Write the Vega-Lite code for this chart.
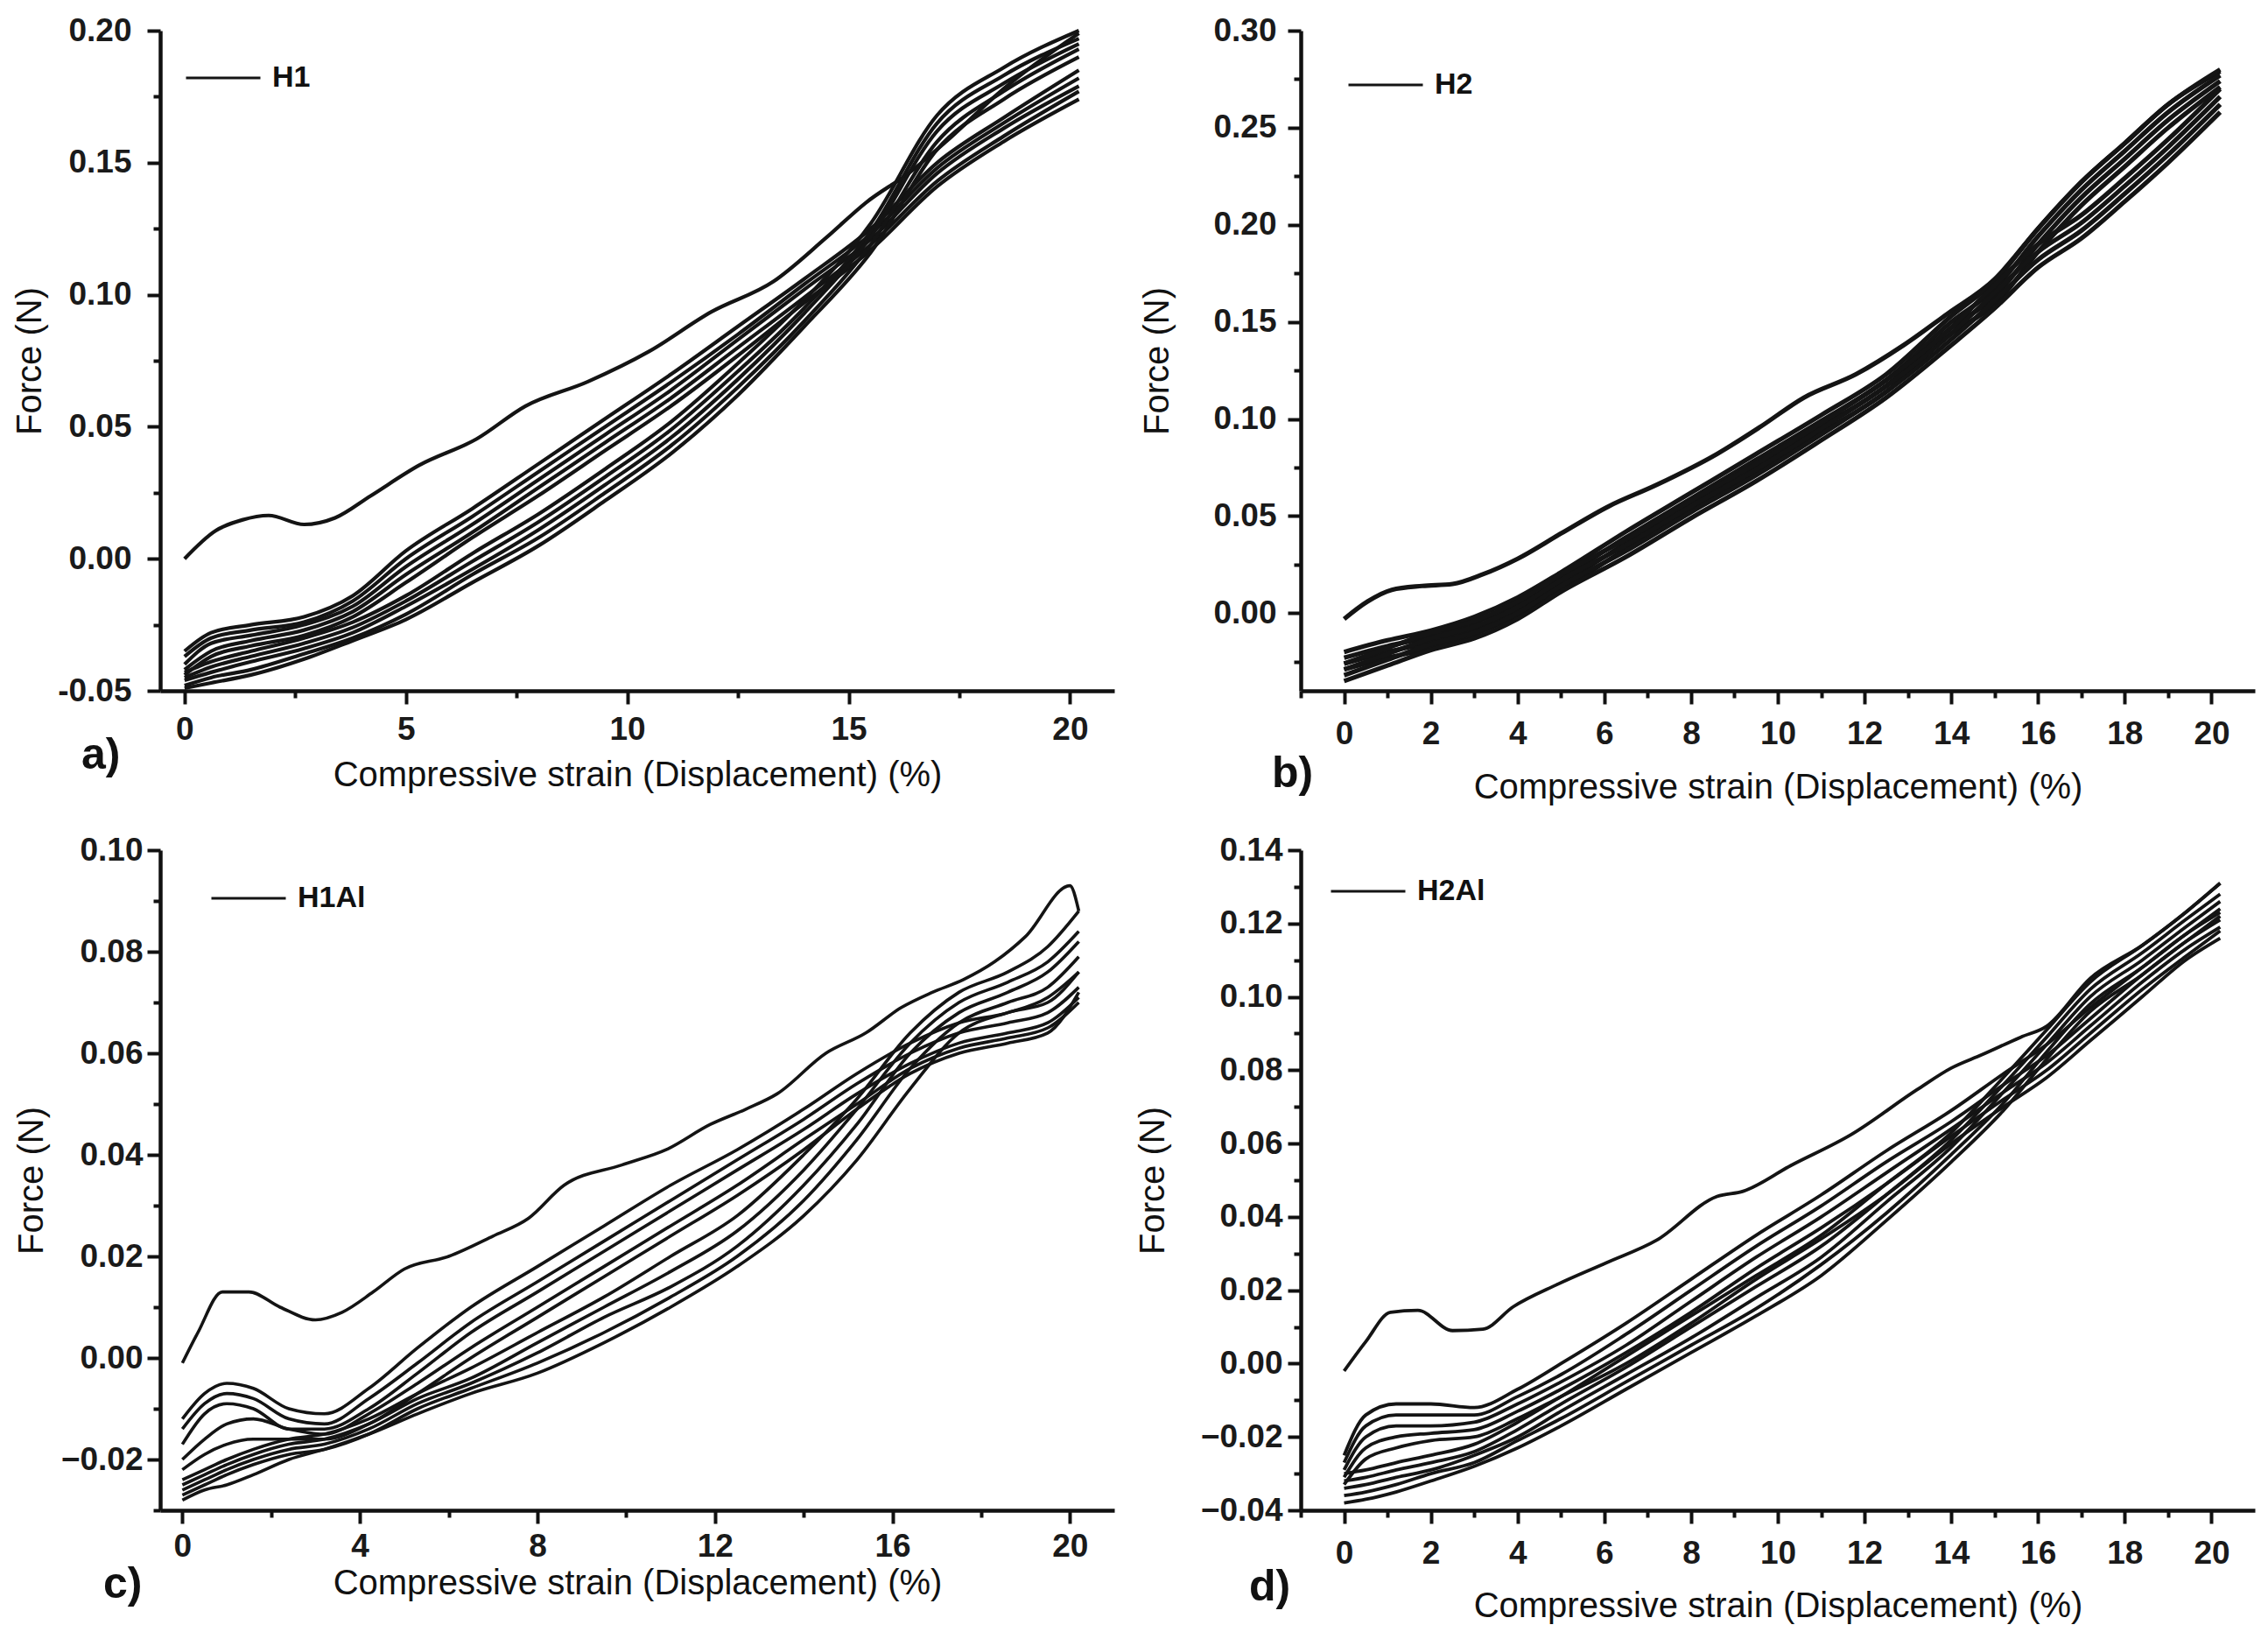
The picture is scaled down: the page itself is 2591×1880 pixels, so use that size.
{
  "$schema": "https://vega.github.io/schema/vega-lite/v6.json",
  "description": "Cyclic compression tests: force vs compressive strain for H1, H2, H1Al and H2Al",
  "background": "white",
  "padding": {"left": 14, "top": 16, "right": 5, "bottom": 5},
  "datasets": {
    "a": [
      {"c": "F", "x": 0, "y": 0}, {"c": "F", "x": 0.7, "y": 0.0106}, {"c": "F", "x": 1.3, "y": 0.0147}, {"c": "F", "x": 1.9, "y": 0.0164}, {"c": "F", "x": 2.7, "y": 0.013}, {"c": "F", "x": 3.4, "y": 0.0155}, {"c": "F", "x": 4.2, "y": 0.0238}, {"c": "F", "x": 5.3, "y": 0.0354}, {"c": "F", "x": 6.6, "y": 0.0454}, {"c": "F", "x": 7.7, "y": 0.0578}, {"c": "F", "x": 9.1, "y": 0.067}, {"c": "F", "x": 10.5, "y": 0.0786}, {"c": "F", "x": 11.9, "y": 0.0935}, {"c": "F", "x": 13.3, "y": 0.105}, {"c": "F", "x": 14.5, "y": 0.1217}, {"c": "F", "x": 15.4, "y": 0.135}, {"c": "F", "x": 16.4, "y": 0.1466}, {"c": "F", "x": 17.2, "y": 0.158}, {"c": "F", "x": 18.5, "y": 0.178}, {"c": "F", "x": 20.2, "y": 0.199},
      {"c": "U1", "x": 0, "y": -0.035}, {"c": "U1", "x": 0.6, "y": -0.028}, {"c": "U1", "x": 1.5, "y": -0.025}, {"c": "U1", "x": 2.7, "y": -0.022}, {"c": "U1", "x": 3.8, "y": -0.014}, {"c": "U1", "x": 5, "y": 0.003}, {"c": "U1", "x": 6.5, "y": 0.019}, {"c": "U1", "x": 8, "y": 0.036}, {"c": "U1", "x": 9.5, "y": 0.053}, {"c": "U1", "x": 11, "y": 0.07}, {"c": "U1", "x": 12.5, "y": 0.088}, {"c": "U1", "x": 14, "y": 0.106}, {"c": "U1", "x": 15.5, "y": 0.125}, {"c": "U1", "x": 17, "y": 0.15}, {"c": "U1", "x": 18.5, "y": 0.167}, {"c": "U1", "x": 20.2, "y": 0.185},
      {"c": "U2", "x": 0, "y": -0.037}, {"c": "U2", "x": 0.6, "y": -0.03}, {"c": "U2", "x": 1.5, "y": -0.027}, {"c": "U2", "x": 2.7, "y": -0.024}, {"c": "U2", "x": 3.8, "y": -0.016}, {"c": "U2", "x": 5, "y": 0}, {"c": "U2", "x": 6.5, "y": 0.016}, {"c": "U2", "x": 8, "y": 0.033}, {"c": "U2", "x": 9.5, "y": 0.05}, {"c": "U2", "x": 11, "y": 0.067}, {"c": "U2", "x": 12.5, "y": 0.085}, {"c": "U2", "x": 14, "y": 0.104}, {"c": "U2", "x": 15.5, "y": 0.123}, {"c": "U2", "x": 17, "y": 0.148}, {"c": "U2", "x": 18.5, "y": 0.165}, {"c": "U2", "x": 20.2, "y": 0.182},
      {"c": "U3", "x": 0, "y": -0.04}, {"c": "U3", "x": 0.6, "y": -0.032}, {"c": "U3", "x": 1.5, "y": -0.029}, {"c": "U3", "x": 2.7, "y": -0.025}, {"c": "U3", "x": 3.8, "y": -0.018}, {"c": "U3", "x": 5, "y": -0.003}, {"c": "U3", "x": 6.5, "y": 0.013}, {"c": "U3", "x": 8, "y": 0.03}, {"c": "U3", "x": 9.5, "y": 0.047}, {"c": "U3", "x": 11, "y": 0.064}, {"c": "U3", "x": 12.5, "y": 0.083}, {"c": "U3", "x": 14, "y": 0.102}, {"c": "U3", "x": 15.5, "y": 0.121}, {"c": "U3", "x": 17, "y": 0.146}, {"c": "U3", "x": 18.5, "y": 0.163}, {"c": "U3", "x": 20.2, "y": 0.179},
      {"c": "U4", "x": 0, "y": -0.042}, {"c": "U4", "x": 0.6, "y": -0.035}, {"c": "U4", "x": 1.5, "y": -0.031}, {"c": "U4", "x": 2.7, "y": -0.027}, {"c": "U4", "x": 3.8, "y": -0.02}, {"c": "U4", "x": 5, "y": -0.006}, {"c": "U4", "x": 6.5, "y": 0.01}, {"c": "U4", "x": 8, "y": 0.027}, {"c": "U4", "x": 9.5, "y": 0.044}, {"c": "U4", "x": 11, "y": 0.061}, {"c": "U4", "x": 12.5, "y": 0.08}, {"c": "U4", "x": 14, "y": 0.099}, {"c": "U4", "x": 15.5, "y": 0.119}, {"c": "U4", "x": 17, "y": 0.143}, {"c": "U4", "x": 18.5, "y": 0.16}, {"c": "U4", "x": 20.2, "y": 0.177},
      {"c": "U5", "x": 0, "y": -0.044}, {"c": "U5", "x": 0.6, "y": -0.037}, {"c": "U5", "x": 1.5, "y": -0.033}, {"c": "U5", "x": 2.7, "y": -0.029}, {"c": "U5", "x": 3.8, "y": -0.022}, {"c": "U5", "x": 5, "y": -0.009}, {"c": "U5", "x": 6.5, "y": 0.008}, {"c": "U5", "x": 8, "y": 0.024}, {"c": "U5", "x": 9.5, "y": 0.041}, {"c": "U5", "x": 11, "y": 0.058}, {"c": "U5", "x": 12.5, "y": 0.077}, {"c": "U5", "x": 14, "y": 0.097}, {"c": "U5", "x": 15.5, "y": 0.117}, {"c": "U5", "x": 17, "y": 0.141}, {"c": "U5", "x": 18.5, "y": 0.158}, {"c": "U5", "x": 20.2, "y": 0.174},
      {"c": "L1", "x": 0, "y": -0.043}, {"c": "L1", "x": 0.6, "y": -0.039}, {"c": "L1", "x": 1.5, "y": -0.035}, {"c": "L1", "x": 2.7, "y": -0.03}, {"c": "L1", "x": 3.8, "y": -0.024}, {"c": "L1", "x": 5, "y": -0.014}, {"c": "L1", "x": 6.5, "y": 0.002}, {"c": "L1", "x": 8, "y": 0.017}, {"c": "L1", "x": 9.5, "y": 0.034}, {"c": "L1", "x": 11, "y": 0.052}, {"c": "L1", "x": 12.5, "y": 0.074}, {"c": "L1", "x": 14, "y": 0.098}, {"c": "L1", "x": 15.5, "y": 0.127}, {"c": "L1", "x": 17, "y": 0.168}, {"c": "L1", "x": 18.5, "y": 0.186}, {"c": "L1", "x": 20.2, "y": 0.2},
      {"c": "L2", "x": 0, "y": -0.045}, {"c": "L2", "x": 0.6, "y": -0.041}, {"c": "L2", "x": 1.5, "y": -0.037}, {"c": "L2", "x": 2.7, "y": -0.032}, {"c": "L2", "x": 3.8, "y": -0.026}, {"c": "L2", "x": 5, "y": -0.016}, {"c": "L2", "x": 6.5, "y": -0.001}, {"c": "L2", "x": 8, "y": 0.014}, {"c": "L2", "x": 9.5, "y": 0.031}, {"c": "L2", "x": 11, "y": 0.049}, {"c": "L2", "x": 12.5, "y": 0.071}, {"c": "L2", "x": 14, "y": 0.095}, {"c": "L2", "x": 15.5, "y": 0.124}, {"c": "L2", "x": 17, "y": 0.165}, {"c": "L2", "x": 18.5, "y": 0.183}, {"c": "L2", "x": 20.2, "y": 0.197},
      {"c": "L3", "x": 0, "y": -0.046}, {"c": "L3", "x": 0.6, "y": -0.043}, {"c": "L3", "x": 1.5, "y": -0.039}, {"c": "L3", "x": 2.7, "y": -0.034}, {"c": "L3", "x": 3.8, "y": -0.028}, {"c": "L3", "x": 5, "y": -0.018}, {"c": "L3", "x": 6.5, "y": -0.004}, {"c": "L3", "x": 8, "y": 0.011}, {"c": "L3", "x": 9.5, "y": 0.028}, {"c": "L3", "x": 11, "y": 0.046}, {"c": "L3", "x": 12.5, "y": 0.068}, {"c": "L3", "x": 14, "y": 0.093}, {"c": "L3", "x": 15.5, "y": 0.122}, {"c": "L3", "x": 17, "y": 0.162}, {"c": "L3", "x": 18.5, "y": 0.18}, {"c": "L3", "x": 20.2, "y": 0.195},
      {"c": "L4", "x": 0, "y": -0.048}, {"c": "L4", "x": 0.6, "y": -0.045}, {"c": "L4", "x": 1.5, "y": -0.042}, {"c": "L4", "x": 2.7, "y": -0.036}, {"c": "L4", "x": 3.8, "y": -0.03}, {"c": "L4", "x": 5, "y": -0.021}, {"c": "L4", "x": 6.5, "y": -0.006}, {"c": "L4", "x": 8, "y": 0.008}, {"c": "L4", "x": 9.5, "y": 0.025}, {"c": "L4", "x": 11, "y": 0.043}, {"c": "L4", "x": 12.5, "y": 0.065}, {"c": "L4", "x": 14, "y": 0.09}, {"c": "L4", "x": 15.5, "y": 0.119}, {"c": "L4", "x": 17, "y": 0.158}, {"c": "L4", "x": 18.5, "y": 0.177}, {"c": "L4", "x": 20.2, "y": 0.193},
      {"c": "L5", "x": 0, "y": -0.049}, {"c": "L5", "x": 0.6, "y": -0.047}, {"c": "L5", "x": 1.5, "y": -0.044}, {"c": "L5", "x": 2.7, "y": -0.038}, {"c": "L5", "x": 3.8, "y": -0.031}, {"c": "L5", "x": 5, "y": -0.023}, {"c": "L5", "x": 6.5, "y": -0.009}, {"c": "L5", "x": 8, "y": 0.005}, {"c": "L5", "x": 9.5, "y": 0.022}, {"c": "L5", "x": 11, "y": 0.04}, {"c": "L5", "x": 12.5, "y": 0.062}, {"c": "L5", "x": 14, "y": 0.088}, {"c": "L5", "x": 15.5, "y": 0.116}, {"c": "L5", "x": 17, "y": 0.155}, {"c": "L5", "x": 18.5, "y": 0.174}, {"c": "L5", "x": 20.2, "y": 0.19}
    ],
    "b": [
      {"c": "F", "x": 0, "y": -0.003}, {"c": "F", "x": 0.54, "y": 0.006}, {"c": "F", "x": 1.1, "y": 0.012}, {"c": "F", "x": 1.8, "y": 0.014}, {"c": "F", "x": 2.5, "y": 0.015}, {"c": "F", "x": 3.2, "y": 0.02}, {"c": "F", "x": 4, "y": 0.028}, {"c": "F", "x": 5, "y": 0.041}, {"c": "F", "x": 6.1, "y": 0.055}, {"c": "F", "x": 7.2, "y": 0.066}, {"c": "F", "x": 8.6, "y": 0.082}, {"c": "F", "x": 9.6, "y": 0.096}, {"c": "F", "x": 10.6, "y": 0.111}, {"c": "F", "x": 11.8, "y": 0.123}, {"c": "F", "x": 12.9, "y": 0.138}, {"c": "F", "x": 13.9, "y": 0.154}, {"c": "F", "x": 15, "y": 0.172}, {"c": "F", "x": 16, "y": 0.198}, {"c": "F", "x": 17, "y": 0.222}, {"c": "F", "x": 18, "y": 0.242}, {"c": "F", "x": 19, "y": 0.262}, {"c": "F", "x": 20.2, "y": 0.279},
      {"c": "U1", "x": 0, "y": -0.02}, {"c": "U1", "x": 1, "y": -0.014}, {"c": "U1", "x": 2, "y": -0.009}, {"c": "U1", "x": 3, "y": -0.002}, {"c": "U1", "x": 4, "y": 0.008}, {"c": "U1", "x": 5, "y": 0.021}, {"c": "U1", "x": 6.5, "y": 0.042}, {"c": "U1", "x": 8, "y": 0.062}, {"c": "U1", "x": 9.5, "y": 0.082}, {"c": "U1", "x": 11, "y": 0.102}, {"c": "U1", "x": 12.5, "y": 0.123}, {"c": "U1", "x": 14, "y": 0.153}, {"c": "U1", "x": 15, "y": 0.171}, {"c": "U1", "x": 16, "y": 0.198}, {"c": "U1", "x": 17, "y": 0.222}, {"c": "U1", "x": 18, "y": 0.242}, {"c": "U1", "x": 19, "y": 0.262}, {"c": "U1", "x": 20.2, "y": 0.28},
      {"c": "U2", "x": 0, "y": -0.023}, {"c": "U2", "x": 1, "y": -0.017}, {"c": "U2", "x": 2, "y": -0.012}, {"c": "U2", "x": 3, "y": -0.005}, {"c": "U2", "x": 4, "y": 0.005}, {"c": "U2", "x": 5, "y": 0.018}, {"c": "U2", "x": 6.5, "y": 0.039}, {"c": "U2", "x": 8, "y": 0.059}, {"c": "U2", "x": 9.5, "y": 0.079}, {"c": "U2", "x": 11, "y": 0.099}, {"c": "U2", "x": 12.5, "y": 0.12}, {"c": "U2", "x": 14, "y": 0.15}, {"c": "U2", "x": 15, "y": 0.167}, {"c": "U2", "x": 16, "y": 0.194}, {"c": "U2", "x": 17, "y": 0.218}, {"c": "U2", "x": 18, "y": 0.238}, {"c": "U2", "x": 19, "y": 0.258}, {"c": "U2", "x": 20.2, "y": 0.277},
      {"c": "U3", "x": 0, "y": -0.026}, {"c": "U3", "x": 1, "y": -0.02}, {"c": "U3", "x": 2, "y": -0.015}, {"c": "U3", "x": 3, "y": -0.008}, {"c": "U3", "x": 4, "y": 0.002}, {"c": "U3", "x": 5, "y": 0.015}, {"c": "U3", "x": 6.5, "y": 0.036}, {"c": "U3", "x": 8, "y": 0.056}, {"c": "U3", "x": 9.5, "y": 0.076}, {"c": "U3", "x": 11, "y": 0.096}, {"c": "U3", "x": 12.5, "y": 0.117}, {"c": "U3", "x": 14, "y": 0.147}, {"c": "U3", "x": 15, "y": 0.163}, {"c": "U3", "x": 16, "y": 0.19}, {"c": "U3", "x": 17, "y": 0.214}, {"c": "U3", "x": 18, "y": 0.234}, {"c": "U3", "x": 19, "y": 0.254}, {"c": "U3", "x": 20.2, "y": 0.274},
      {"c": "U4", "x": 0, "y": -0.029}, {"c": "U4", "x": 1, "y": -0.023}, {"c": "U4", "x": 2, "y": -0.018}, {"c": "U4", "x": 3, "y": -0.011}, {"c": "U4", "x": 4, "y": -0.001}, {"c": "U4", "x": 5, "y": 0.012}, {"c": "U4", "x": 6.5, "y": 0.033}, {"c": "U4", "x": 8, "y": 0.053}, {"c": "U4", "x": 9.5, "y": 0.073}, {"c": "U4", "x": 11, "y": 0.093}, {"c": "U4", "x": 12.5, "y": 0.114}, {"c": "U4", "x": 14, "y": 0.144}, {"c": "U4", "x": 15, "y": 0.159}, {"c": "U4", "x": 16, "y": 0.186}, {"c": "U4", "x": 17, "y": 0.21}, {"c": "U4", "x": 18, "y": 0.23}, {"c": "U4", "x": 19, "y": 0.25}, {"c": "U4", "x": 20.2, "y": 0.271},
      {"c": "L1", "x": 0, "y": -0.035}, {"c": "L1", "x": 1, "y": -0.027}, {"c": "L1", "x": 2, "y": -0.019}, {"c": "L1", "x": 3, "y": -0.013}, {"c": "L1", "x": 4, "y": -0.003}, {"c": "L1", "x": 5, "y": 0.011}, {"c": "L1", "x": 6.5, "y": 0.029}, {"c": "L1", "x": 8, "y": 0.049}, {"c": "L1", "x": 9.5, "y": 0.068}, {"c": "L1", "x": 11, "y": 0.089}, {"c": "L1", "x": 12.5, "y": 0.111}, {"c": "L1", "x": 14, "y": 0.138}, {"c": "L1", "x": 15, "y": 0.157}, {"c": "L1", "x": 16, "y": 0.178}, {"c": "L1", "x": 17, "y": 0.193}, {"c": "L1", "x": 18, "y": 0.212}, {"c": "L1", "x": 19, "y": 0.232}, {"c": "L1", "x": 20.2, "y": 0.258},
      {"c": "L2", "x": 0, "y": -0.032}, {"c": "L2", "x": 1, "y": -0.024}, {"c": "L2", "x": 2, "y": -0.016}, {"c": "L2", "x": 3, "y": -0.01}, {"c": "L2", "x": 4, "y": 0}, {"c": "L2", "x": 5, "y": 0.014}, {"c": "L2", "x": 6.5, "y": 0.032}, {"c": "L2", "x": 8, "y": 0.052}, {"c": "L2", "x": 9.5, "y": 0.071}, {"c": "L2", "x": 11, "y": 0.092}, {"c": "L2", "x": 12.5, "y": 0.114}, {"c": "L2", "x": 14, "y": 0.141}, {"c": "L2", "x": 15, "y": 0.161}, {"c": "L2", "x": 16, "y": 0.182}, {"c": "L2", "x": 17, "y": 0.197}, {"c": "L2", "x": 18, "y": 0.216}, {"c": "L2", "x": 19, "y": 0.236}, {"c": "L2", "x": 20.2, "y": 0.262},
      {"c": "L3", "x": 0, "y": -0.029}, {"c": "L3", "x": 1, "y": -0.021}, {"c": "L3", "x": 2, "y": -0.013}, {"c": "L3", "x": 3, "y": -0.007}, {"c": "L3", "x": 4, "y": 0.003}, {"c": "L3", "x": 5, "y": 0.017}, {"c": "L3", "x": 6.5, "y": 0.035}, {"c": "L3", "x": 8, "y": 0.055}, {"c": "L3", "x": 9.5, "y": 0.074}, {"c": "L3", "x": 11, "y": 0.095}, {"c": "L3", "x": 12.5, "y": 0.117}, {"c": "L3", "x": 14, "y": 0.144}, {"c": "L3", "x": 15, "y": 0.165}, {"c": "L3", "x": 16, "y": 0.186}, {"c": "L3", "x": 17, "y": 0.201}, {"c": "L3", "x": 18, "y": 0.22}, {"c": "L3", "x": 19, "y": 0.24}, {"c": "L3", "x": 20.2, "y": 0.266},
      {"c": "L4", "x": 0, "y": -0.026}, {"c": "L4", "x": 1, "y": -0.018}, {"c": "L4", "x": 2, "y": -0.01}, {"c": "L4", "x": 3, "y": -0.004}, {"c": "L4", "x": 4, "y": 0.006}, {"c": "L4", "x": 5, "y": 0.02}, {"c": "L4", "x": 6.5, "y": 0.038}, {"c": "L4", "x": 8, "y": 0.058}, {"c": "L4", "x": 9.5, "y": 0.077}, {"c": "L4", "x": 11, "y": 0.098}, {"c": "L4", "x": 12.5, "y": 0.12}, {"c": "L4", "x": 14, "y": 0.147}, {"c": "L4", "x": 15, "y": 0.169}, {"c": "L4", "x": 16, "y": 0.19}, {"c": "L4", "x": 17, "y": 0.205}, {"c": "L4", "x": 18, "y": 0.224}, {"c": "L4", "x": 19, "y": 0.244}, {"c": "L4", "x": 20.2, "y": 0.27}
    ],
    "c": [
      {"c": "F", "x": 0, "y": -0.001}, {"c": "F", "x": 0.35, "y": 0.005}, {"c": "F", "x": 0.9, "y": 0.013}, {"c": "F", "x": 1.5, "y": 0.013}, {"c": "F", "x": 2.2, "y": 0.01}, {"c": "F", "x": 3, "y": 0.0075}, {"c": "F", "x": 3.6, "y": 0.009}, {"c": "F", "x": 4.3, "y": 0.013}, {"c": "F", "x": 5, "y": 0.0175}, {"c": "F", "x": 6, "y": 0.02}, {"c": "F", "x": 7, "y": 0.024}, {"c": "F", "x": 7.8, "y": 0.0275}, {"c": "F", "x": 8.6, "y": 0.034}, {"c": "F", "x": 9.9, "y": 0.038}, {"c": "F", "x": 10.9, "y": 0.041}, {"c": "F", "x": 11.9, "y": 0.046}, {"c": "F", "x": 12.7, "y": 0.049}, {"c": "F", "x": 13.4, "y": 0.052}, {"c": "F", "x": 14.5, "y": 0.06}, {"c": "F", "x": 15.4, "y": 0.064}, {"c": "F", "x": 16.2, "y": 0.069}, {"c": "F", "x": 16.9, "y": 0.072}, {"c": "F", "x": 17.6, "y": 0.0745}, {"c": "F", "x": 18.3, "y": 0.078}, {"c": "F", "x": 19, "y": 0.083}, {"c": "F", "x": 20, "y": 0.093}, {"c": "F", "x": 20.2, "y": 0.088},
      {"c": "U1", "x": 0, "y": -0.012}, {"c": "U1", "x": 0.5, "y": -0.007}, {"c": "U1", "x": 1, "y": -0.005}, {"c": "U1", "x": 1.6, "y": -0.006}, {"c": "U1", "x": 2.4, "y": -0.01}, {"c": "U1", "x": 3.2, "y": -0.011}, {"c": "U1", "x": 4.2, "y": -0.006}, {"c": "U1", "x": 5.3, "y": 0.002}, {"c": "U1", "x": 6.5, "y": 0.01}, {"c": "U1", "x": 8, "y": 0.018}, {"c": "U1", "x": 9.5, "y": 0.026}, {"c": "U1", "x": 11, "y": 0.034}, {"c": "U1", "x": 12.5, "y": 0.041}, {"c": "U1", "x": 14, "y": 0.049}, {"c": "U1", "x": 15.2, "y": 0.056}, {"c": "U1", "x": 16.4, "y": 0.062}, {"c": "U1", "x": 17.5, "y": 0.066}, {"c": "U1", "x": 18.6, "y": 0.068}, {"c": "U1", "x": 19.5, "y": 0.071}, {"c": "U1", "x": 20.2, "y": 0.076},
      {"c": "U2", "x": 0, "y": -0.014}, {"c": "U2", "x": 0.5, "y": -0.009}, {"c": "U2", "x": 1, "y": -0.007}, {"c": "U2", "x": 1.6, "y": -0.008}, {"c": "U2", "x": 2.4, "y": -0.012}, {"c": "U2", "x": 3.2, "y": -0.013}, {"c": "U2", "x": 4.2, "y": -0.008}, {"c": "U2", "x": 5.3, "y": -0.001}, {"c": "U2", "x": 6.5, "y": 0.007}, {"c": "U2", "x": 8, "y": 0.015}, {"c": "U2", "x": 9.5, "y": 0.023}, {"c": "U2", "x": 11, "y": 0.031}, {"c": "U2", "x": 12.5, "y": 0.039}, {"c": "U2", "x": 14, "y": 0.047}, {"c": "U2", "x": 15.2, "y": 0.054}, {"c": "U2", "x": 16.4, "y": 0.06}, {"c": "U2", "x": 17.5, "y": 0.064}, {"c": "U2", "x": 18.6, "y": 0.066}, {"c": "U2", "x": 19.5, "y": 0.068}, {"c": "U2", "x": 20.2, "y": 0.073},
      {"c": "U3", "x": 0, "y": -0.017}, {"c": "U3", "x": 0.5, "y": -0.011}, {"c": "U3", "x": 1, "y": -0.009}, {"c": "U3", "x": 1.6, "y": -0.01}, {"c": "U3", "x": 2.4, "y": -0.014}, {"c": "U3", "x": 3.2, "y": -0.014}, {"c": "U3", "x": 4.2, "y": -0.01}, {"c": "U3", "x": 5.3, "y": -0.003}, {"c": "U3", "x": 6.5, "y": 0.005}, {"c": "U3", "x": 8, "y": 0.013}, {"c": "U3", "x": 9.5, "y": 0.021}, {"c": "U3", "x": 11, "y": 0.029}, {"c": "U3", "x": 12.5, "y": 0.037}, {"c": "U3", "x": 14, "y": 0.045}, {"c": "U3", "x": 15.2, "y": 0.052}, {"c": "U3", "x": 16.4, "y": 0.058}, {"c": "U3", "x": 17.5, "y": 0.062}, {"c": "U3", "x": 18.6, "y": 0.064}, {"c": "U3", "x": 19.5, "y": 0.066}, {"c": "U3", "x": 20.2, "y": 0.071},
      {"c": "U4", "x": 0, "y": -0.02}, {"c": "U4", "x": 0.5, "y": -0.016}, {"c": "U4", "x": 1, "y": -0.013}, {"c": "U4", "x": 1.6, "y": -0.012}, {"c": "U4", "x": 2.4, "y": -0.014}, {"c": "U4", "x": 3.2, "y": -0.015}, {"c": "U4", "x": 4.2, "y": -0.011}, {"c": "U4", "x": 5.3, "y": -0.005}, {"c": "U4", "x": 6.5, "y": 0.002}, {"c": "U4", "x": 8, "y": 0.01}, {"c": "U4", "x": 9.5, "y": 0.018}, {"c": "U4", "x": 11, "y": 0.026}, {"c": "U4", "x": 12.5, "y": 0.034}, {"c": "U4", "x": 14, "y": 0.043}, {"c": "U4", "x": 15.2, "y": 0.05}, {"c": "U4", "x": 16.4, "y": 0.057}, {"c": "U4", "x": 17.5, "y": 0.061}, {"c": "U4", "x": 18.6, "y": 0.063}, {"c": "U4", "x": 19.5, "y": 0.065}, {"c": "U4", "x": 20.2, "y": 0.07},
      {"c": "U5", "x": 0, "y": -0.022}, {"c": "U5", "x": 0.5, "y": -0.019}, {"c": "U5", "x": 1, "y": -0.017}, {"c": "U5", "x": 1.6, "y": -0.016}, {"c": "U5", "x": 2.4, "y": -0.016}, {"c": "U5", "x": 3.2, "y": -0.016}, {"c": "U5", "x": 4.2, "y": -0.013}, {"c": "U5", "x": 5.3, "y": -0.007}, {"c": "U5", "x": 6.5, "y": 0}, {"c": "U5", "x": 8, "y": 0.008}, {"c": "U5", "x": 9.5, "y": 0.016}, {"c": "U5", "x": 11, "y": 0.024}, {"c": "U5", "x": 12.5, "y": 0.032}, {"c": "U5", "x": 14, "y": 0.041}, {"c": "U5", "x": 15.2, "y": 0.049}, {"c": "U5", "x": 16.4, "y": 0.056}, {"c": "U5", "x": 17.5, "y": 0.06}, {"c": "U5", "x": 18.6, "y": 0.062}, {"c": "U5", "x": 19.5, "y": 0.064}, {"c": "U5", "x": 20.2, "y": 0.072},
      {"c": "L1", "x": 0, "y": -0.024}, {"c": "L1", "x": 0.5, "y": -0.022}, {"c": "L1", "x": 1, "y": -0.02}, {"c": "L1", "x": 1.6, "y": -0.018}, {"c": "L1", "x": 2.4, "y": -0.016}, {"c": "L1", "x": 3.2, "y": -0.015}, {"c": "L1", "x": 4.2, "y": -0.012}, {"c": "L1", "x": 5.3, "y": -0.007}, {"c": "L1", "x": 6.5, "y": -0.002}, {"c": "L1", "x": 8, "y": 0.005}, {"c": "L1", "x": 9.5, "y": 0.012}, {"c": "L1", "x": 11, "y": 0.02}, {"c": "L1", "x": 12.5, "y": 0.028}, {"c": "L1", "x": 14, "y": 0.04}, {"c": "L1", "x": 15.2, "y": 0.051}, {"c": "L1", "x": 16.4, "y": 0.064}, {"c": "L1", "x": 17.5, "y": 0.072}, {"c": "L1", "x": 18.6, "y": 0.076}, {"c": "L1", "x": 19.5, "y": 0.081}, {"c": "L1", "x": 20.2, "y": 0.088},
      {"c": "L2", "x": 0, "y": -0.025}, {"c": "L2", "x": 0.5, "y": -0.023}, {"c": "L2", "x": 1, "y": -0.021}, {"c": "L2", "x": 1.6, "y": -0.019}, {"c": "L2", "x": 2.4, "y": -0.017}, {"c": "L2", "x": 3.2, "y": -0.016}, {"c": "L2", "x": 4.2, "y": -0.013}, {"c": "L2", "x": 5.3, "y": -0.008}, {"c": "L2", "x": 6.5, "y": -0.004}, {"c": "L2", "x": 8, "y": 0.003}, {"c": "L2", "x": 9.5, "y": 0.01}, {"c": "L2", "x": 11, "y": 0.017}, {"c": "L2", "x": 12.5, "y": 0.025}, {"c": "L2", "x": 14, "y": 0.037}, {"c": "L2", "x": 15.2, "y": 0.049}, {"c": "L2", "x": 16.4, "y": 0.062}, {"c": "L2", "x": 17.5, "y": 0.07}, {"c": "L2", "x": 18.6, "y": 0.074}, {"c": "L2", "x": 19.5, "y": 0.078}, {"c": "L2", "x": 20.2, "y": 0.084},
      {"c": "L3", "x": 0, "y": -0.026}, {"c": "L3", "x": 0.5, "y": -0.024}, {"c": "L3", "x": 1, "y": -0.022}, {"c": "L3", "x": 1.6, "y": -0.02}, {"c": "L3", "x": 2.4, "y": -0.018}, {"c": "L3", "x": 3.2, "y": -0.017}, {"c": "L3", "x": 4.2, "y": -0.014}, {"c": "L3", "x": 5.3, "y": -0.009}, {"c": "L3", "x": 6.5, "y": -0.005}, {"c": "L3", "x": 8, "y": 0.001}, {"c": "L3", "x": 9.5, "y": 0.008}, {"c": "L3", "x": 11, "y": 0.014}, {"c": "L3", "x": 12.5, "y": 0.022}, {"c": "L3", "x": 14, "y": 0.034}, {"c": "L3", "x": 15.2, "y": 0.046}, {"c": "L3", "x": 16.4, "y": 0.06}, {"c": "L3", "x": 17.5, "y": 0.068}, {"c": "L3", "x": 18.6, "y": 0.072}, {"c": "L3", "x": 19.5, "y": 0.076}, {"c": "L3", "x": 20.2, "y": 0.082},
      {"c": "L4", "x": 0, "y": -0.027}, {"c": "L4", "x": 0.5, "y": -0.025}, {"c": "L4", "x": 1, "y": -0.023}, {"c": "L4", "x": 1.6, "y": -0.021}, {"c": "L4", "x": 2.4, "y": -0.019}, {"c": "L4", "x": 3.2, "y": -0.018}, {"c": "L4", "x": 4.2, "y": -0.015}, {"c": "L4", "x": 5.3, "y": -0.01}, {"c": "L4", "x": 6.5, "y": -0.006}, {"c": "L4", "x": 8, "y": -0.001}, {"c": "L4", "x": 9.5, "y": 0.005}, {"c": "L4", "x": 11, "y": 0.012}, {"c": "L4", "x": 12.5, "y": 0.02}, {"c": "L4", "x": 14, "y": 0.031}, {"c": "L4", "x": 15.2, "y": 0.043}, {"c": "L4", "x": 16.4, "y": 0.057}, {"c": "L4", "x": 17.5, "y": 0.066}, {"c": "L4", "x": 18.6, "y": 0.07}, {"c": "L4", "x": 19.5, "y": 0.073}, {"c": "L4", "x": 20.2, "y": 0.079},
      {"c": "L5", "x": 0, "y": -0.028}, {"c": "L5", "x": 0.5, "y": -0.026}, {"c": "L5", "x": 1, "y": -0.025}, {"c": "L5", "x": 1.6, "y": -0.023}, {"c": "L5", "x": 2.4, "y": -0.02}, {"c": "L5", "x": 3.2, "y": -0.018}, {"c": "L5", "x": 4.2, "y": -0.015}, {"c": "L5", "x": 5.3, "y": -0.011}, {"c": "L5", "x": 6.5, "y": -0.007}, {"c": "L5", "x": 8, "y": -0.003}, {"c": "L5", "x": 9.5, "y": 0.003}, {"c": "L5", "x": 11, "y": 0.01}, {"c": "L5", "x": 12.5, "y": 0.018}, {"c": "L5", "x": 14, "y": 0.028}, {"c": "L5", "x": 15.2, "y": 0.039}, {"c": "L5", "x": 16.4, "y": 0.053}, {"c": "L5", "x": 17.5, "y": 0.064}, {"c": "L5", "x": 18.6, "y": 0.068}, {"c": "L5", "x": 19.5, "y": 0.07}, {"c": "L5", "x": 20.2, "y": 0.076}
    ],
    "d": [
      {"c": "F", "x": 0, "y": -0.002}, {"c": "F", "x": 0.5, "y": 0.006}, {"c": "F", "x": 1.07, "y": 0.014}, {"c": "F", "x": 1.7, "y": 0.0145}, {"c": "F", "x": 2.5, "y": 0.009}, {"c": "F", "x": 3.2, "y": 0.0094}, {"c": "F", "x": 3.9, "y": 0.0155}, {"c": "F", "x": 4.9, "y": 0.0215}, {"c": "F", "x": 6.05, "y": 0.0275}, {"c": "F", "x": 7.2, "y": 0.0336}, {"c": "F", "x": 8.6, "y": 0.0456}, {"c": "F", "x": 9.2, "y": 0.047}, {"c": "F", "x": 10.3, "y": 0.054}, {"c": "F", "x": 11.7, "y": 0.0625}, {"c": "F", "x": 13.2, "y": 0.0746}, {"c": "F", "x": 14, "y": 0.0806}, {"c": "F", "x": 14.7, "y": 0.0842}, {"c": "F", "x": 15.6, "y": 0.089}, {"c": "F", "x": 16.2, "y": 0.092}, {"c": "F", "x": 17.2, "y": 0.105}, {"c": "F", "x": 18.4, "y": 0.114}, {"c": "F", "x": 19.4, "y": 0.123}, {"c": "F", "x": 20.2, "y": 0.131},
      {"c": "U1", "x": 0, "y": -0.025}, {"c": "U1", "x": 0.5, "y": -0.014}, {"c": "U1", "x": 1.2, "y": -0.011}, {"c": "U1", "x": 2, "y": -0.011}, {"c": "U1", "x": 3, "y": -0.012}, {"c": "U1", "x": 4, "y": -0.007}, {"c": "U1", "x": 5, "y": 0}, {"c": "U1", "x": 6.5, "y": 0.011}, {"c": "U1", "x": 8, "y": 0.023}, {"c": "U1", "x": 9.5, "y": 0.035}, {"c": "U1", "x": 11, "y": 0.046}, {"c": "U1", "x": 12.5, "y": 0.058}, {"c": "U1", "x": 14, "y": 0.069}, {"c": "U1", "x": 15.2, "y": 0.079}, {"c": "U1", "x": 16.2, "y": 0.087}, {"c": "U1", "x": 17.2, "y": 0.097}, {"c": "U1", "x": 18.4, "y": 0.108}, {"c": "U1", "x": 19.4, "y": 0.117}, {"c": "U1", "x": 20.2, "y": 0.123},
      {"c": "U2", "x": 0, "y": -0.027}, {"c": "U2", "x": 0.5, "y": -0.017}, {"c": "U2", "x": 1.2, "y": -0.014}, {"c": "U2", "x": 2, "y": -0.014}, {"c": "U2", "x": 3, "y": -0.014}, {"c": "U2", "x": 4, "y": -0.009}, {"c": "U2", "x": 5, "y": -0.003}, {"c": "U2", "x": 6.5, "y": 0.008}, {"c": "U2", "x": 8, "y": 0.02}, {"c": "U2", "x": 9.5, "y": 0.032}, {"c": "U2", "x": 11, "y": 0.043}, {"c": "U2", "x": 12.5, "y": 0.055}, {"c": "U2", "x": 14, "y": 0.066}, {"c": "U2", "x": 15.2, "y": 0.076}, {"c": "U2", "x": 16.2, "y": 0.084}, {"c": "U2", "x": 17.2, "y": 0.094}, {"c": "U2", "x": 18.4, "y": 0.106}, {"c": "U2", "x": 19.4, "y": 0.115}, {"c": "U2", "x": 20.2, "y": 0.121},
      {"c": "U3", "x": 0, "y": -0.029}, {"c": "U3", "x": 0.5, "y": -0.02}, {"c": "U3", "x": 1.2, "y": -0.017}, {"c": "U3", "x": 2, "y": -0.017}, {"c": "U3", "x": 3, "y": -0.016}, {"c": "U3", "x": 4, "y": -0.011}, {"c": "U3", "x": 5, "y": -0.005}, {"c": "U3", "x": 6.5, "y": 0.005}, {"c": "U3", "x": 8, "y": 0.017}, {"c": "U3", "x": 9.5, "y": 0.029}, {"c": "U3", "x": 11, "y": 0.04}, {"c": "U3", "x": 12.5, "y": 0.052}, {"c": "U3", "x": 14, "y": 0.064}, {"c": "U3", "x": 15.2, "y": 0.074}, {"c": "U3", "x": 16.2, "y": 0.082}, {"c": "U3", "x": 17.2, "y": 0.092}, {"c": "U3", "x": 18.4, "y": 0.104}, {"c": "U3", "x": 19.4, "y": 0.113}, {"c": "U3", "x": 20.2, "y": 0.119},
      {"c": "U4", "x": 0, "y": -0.031}, {"c": "U4", "x": 0.5, "y": -0.023}, {"c": "U4", "x": 1.2, "y": -0.02}, {"c": "U4", "x": 2, "y": -0.019}, {"c": "U4", "x": 3, "y": -0.018}, {"c": "U4", "x": 4, "y": -0.013}, {"c": "U4", "x": 5, "y": -0.007}, {"c": "U4", "x": 6.5, "y": 0.003}, {"c": "U4", "x": 8, "y": 0.014}, {"c": "U4", "x": 9.5, "y": 0.026}, {"c": "U4", "x": 11, "y": 0.037}, {"c": "U4", "x": 12.5, "y": 0.049}, {"c": "U4", "x": 14, "y": 0.062}, {"c": "U4", "x": 15.2, "y": 0.072}, {"c": "U4", "x": 16.2, "y": 0.08}, {"c": "U4", "x": 17.2, "y": 0.09}, {"c": "U4", "x": 18.4, "y": 0.102}, {"c": "U4", "x": 19.4, "y": 0.111}, {"c": "U4", "x": 20.2, "y": 0.118},
      {"c": "U5", "x": 0, "y": -0.033}, {"c": "U5", "x": 0.5, "y": -0.026}, {"c": "U5", "x": 1.2, "y": -0.023}, {"c": "U5", "x": 2, "y": -0.021}, {"c": "U5", "x": 3, "y": -0.02}, {"c": "U5", "x": 4, "y": -0.015}, {"c": "U5", "x": 5, "y": -0.009}, {"c": "U5", "x": 6.5, "y": 0}, {"c": "U5", "x": 8, "y": 0.011}, {"c": "U5", "x": 9.5, "y": 0.023}, {"c": "U5", "x": 11, "y": 0.034}, {"c": "U5", "x": 12.5, "y": 0.046}, {"c": "U5", "x": 14, "y": 0.06}, {"c": "U5", "x": 15.2, "y": 0.07}, {"c": "U5", "x": 16.2, "y": 0.078}, {"c": "U5", "x": 17.2, "y": 0.088}, {"c": "U5", "x": 18.4, "y": 0.1}, {"c": "U5", "x": 19.4, "y": 0.11}, {"c": "U5", "x": 20.2, "y": 0.116},
      {"c": "L1", "x": 0, "y": -0.03}, {"c": "L1", "x": 0.5, "y": -0.029}, {"c": "L1", "x": 1.2, "y": -0.027}, {"c": "L1", "x": 2, "y": -0.025}, {"c": "L1", "x": 3, "y": -0.022}, {"c": "L1", "x": 4, "y": -0.016}, {"c": "L1", "x": 5, "y": -0.009}, {"c": "L1", "x": 6.5, "y": 0.002}, {"c": "L1", "x": 8, "y": 0.013}, {"c": "L1", "x": 9.5, "y": 0.024}, {"c": "L1", "x": 11, "y": 0.035}, {"c": "L1", "x": 12.5, "y": 0.049}, {"c": "L1", "x": 14, "y": 0.063}, {"c": "L1", "x": 15.2, "y": 0.078}, {"c": "L1", "x": 16.2, "y": 0.091}, {"c": "L1", "x": 17.2, "y": 0.104}, {"c": "L1", "x": 18.4, "y": 0.114}, {"c": "L1", "x": 19.4, "y": 0.123}, {"c": "L1", "x": 20.2, "y": 0.131},
      {"c": "L2", "x": 0, "y": -0.032}, {"c": "L2", "x": 0.5, "y": -0.031}, {"c": "L2", "x": 1.2, "y": -0.029}, {"c": "L2", "x": 2, "y": -0.027}, {"c": "L2", "x": 3, "y": -0.024}, {"c": "L2", "x": 4, "y": -0.018}, {"c": "L2", "x": 5, "y": -0.011}, {"c": "L2", "x": 6.5, "y": -0.001}, {"c": "L2", "x": 8, "y": 0.01}, {"c": "L2", "x": 9.5, "y": 0.021}, {"c": "L2", "x": 11, "y": 0.032}, {"c": "L2", "x": 12.5, "y": 0.046}, {"c": "L2", "x": 14, "y": 0.061}, {"c": "L2", "x": 15.2, "y": 0.076}, {"c": "L2", "x": 16.2, "y": 0.089}, {"c": "L2", "x": 17.2, "y": 0.102}, {"c": "L2", "x": 18.4, "y": 0.112}, {"c": "L2", "x": 19.4, "y": 0.121}, {"c": "L2", "x": 20.2, "y": 0.128},
      {"c": "L3", "x": 0, "y": -0.034}, {"c": "L3", "x": 0.5, "y": -0.033}, {"c": "L3", "x": 1.2, "y": -0.031}, {"c": "L3", "x": 2, "y": -0.029}, {"c": "L3", "x": 3, "y": -0.025}, {"c": "L3", "x": 4, "y": -0.02}, {"c": "L3", "x": 5, "y": -0.013}, {"c": "L3", "x": 6.5, "y": -0.003}, {"c": "L3", "x": 8, "y": 0.007}, {"c": "L3", "x": 9.5, "y": 0.018}, {"c": "L3", "x": 11, "y": 0.029}, {"c": "L3", "x": 12.5, "y": 0.044}, {"c": "L3", "x": 14, "y": 0.059}, {"c": "L3", "x": 15.2, "y": 0.074}, {"c": "L3", "x": 16.2, "y": 0.087}, {"c": "L3", "x": 17.2, "y": 0.1}, {"c": "L3", "x": 18.4, "y": 0.11}, {"c": "L3", "x": 19.4, "y": 0.119}, {"c": "L3", "x": 20.2, "y": 0.126},
      {"c": "L4", "x": 0, "y": -0.036}, {"c": "L4", "x": 0.5, "y": -0.035}, {"c": "L4", "x": 1.2, "y": -0.033}, {"c": "L4", "x": 2, "y": -0.03}, {"c": "L4", "x": 3, "y": -0.027}, {"c": "L4", "x": 4, "y": -0.021}, {"c": "L4", "x": 5, "y": -0.015}, {"c": "L4", "x": 6.5, "y": -0.005}, {"c": "L4", "x": 8, "y": 0.005}, {"c": "L4", "x": 9.5, "y": 0.015}, {"c": "L4", "x": 11, "y": 0.027}, {"c": "L4", "x": 12.5, "y": 0.041}, {"c": "L4", "x": 14, "y": 0.057}, {"c": "L4", "x": 15.2, "y": 0.071}, {"c": "L4", "x": 16.2, "y": 0.085}, {"c": "L4", "x": 17.2, "y": 0.098}, {"c": "L4", "x": 18.4, "y": 0.108}, {"c": "L4", "x": 19.4, "y": 0.117}, {"c": "L4", "x": 20.2, "y": 0.124},
      {"c": "L5", "x": 0, "y": -0.038}, {"c": "L5", "x": 0.5, "y": -0.037}, {"c": "L5", "x": 1.2, "y": -0.035}, {"c": "L5", "x": 2, "y": -0.032}, {"c": "L5", "x": 3, "y": -0.028}, {"c": "L5", "x": 4, "y": -0.023}, {"c": "L5", "x": 5, "y": -0.017}, {"c": "L5", "x": 6.5, "y": -0.007}, {"c": "L5", "x": 8, "y": 0.003}, {"c": "L5", "x": 9.5, "y": 0.013}, {"c": "L5", "x": 11, "y": 0.024}, {"c": "L5", "x": 12.5, "y": 0.039}, {"c": "L5", "x": 14, "y": 0.055}, {"c": "L5", "x": 15.2, "y": 0.069}, {"c": "L5", "x": 16.2, "y": 0.083}, {"c": "L5", "x": 17.2, "y": 0.096}, {"c": "L5", "x": 18.4, "y": 0.106}, {"c": "L5", "x": 19.4, "y": 0.115}, {"c": "L5", "x": 20.2, "y": 0.122}
    ]
  },
  "columns": 2,
  "spacing": {"row": 182, "column": 213},
  "bounds": "flush",
  "resolve": {"scale": {"color": "independent"}, "legend": {"color": "independent"}},
  "config": {
    "view": {"stroke": null},
    "font": "Liberation Sans",
    "line": {"interpolate": "monotone"},
    "axis": {
      "grid": false,
      "domainColor": "#111111",
      "domainWidth": 4.5,
      "tickColor": "#111111",
      "tickWidth": 4,
      "labelFont": "Liberation Sans",
      "labelFontSize": 37,
      "labelFontWeight": "bold",
      "labelColor": "#1a1a1a",
      "labelOverlap": false,
      "labelFlush": false,
      "titleFont": "Liberation Sans",
      "titleFontSize": 40,
      "titleFontWeight": "normal",
      "titleColor": "#111111"
    },
    "legend": {
      "orient": "none",
      "title": null,
      "symbolType": "stroke",
      "symbolSize": 7225,
      "symbolStrokeWidth": 3,
      "labelFont": "Liberation Sans",
      "labelFontSize": 34,
      "labelFontWeight": "bold",
      "labelColor": "#111111",
      "labelOffset": 12,
      "padding": 0
    },
    "title": {
      "orient": "bottom",
      "anchor": "start",
      "frame": "group",
      "font": "Liberation Sans",
      "fontSize": 50,
      "fontWeight": "bold",
      "color": "#111111"
    }
  },
  "concat": [
    {
      "width": 1090,
      "height": 754,
      "title": {"text": "a)", "dx": -90, "dy": -71},
      "data": {"name": "a"},
      "mark": {"type": "line", "strokeWidth": 4.2},
      "encoding": {
        "x": {
          "field": "x", "type": "quantitative",
          "scale": {"domain": [-0.55, 21], "nice": false, "zero": false},
          "axis": {
            "title": "Compressive strain (Displacement) (%)",
            "values": [0, 2.5, 5, 7.5, 10, 12.5, 15, 17.5, 20],
            "labelExpr": "datum.value % 5 === 0 ? format(datum.value, 'd') : ''",
            "tickSize": {"condition": {"test": "datum.value % 5 !== 0", "value": 8}, "value": 15},
            "labelPadding": 11,
            "titlePadding": 14
          }
        },
        "y": {
          "field": "y", "type": "quantitative",
          "scale": {"domain": [-0.05, 0.2], "nice": false, "zero": false},
          "axis": {
            "title": "Force (N)",
            "values": [-0.05, -0.025, 0, 0.025, 0.05, 0.075, 0.1, 0.125, 0.15, 0.175, 0.2],
            "labelExpr": "abs(datum.value * 20 - round(datum.value * 20)) < 0.01 ? replace(format(datum.value, '.2f'), '\u2212', '-') : ''",
            "tickSize": {"condition": {"test": "abs(datum.value * 20 - round(datum.value * 20)) > 0.01", "value": 8}, "value": 15},
            "labelPadding": 18,
            "titlePadding": 11
          }
        },
        "detail": {"field": "c", "type": "nominal"},
        "color": {
          "datum": "H1", "type": "nominal",
          "scale": {"range": ["#141414"]},
          "legend": {"legendX": 28, "legendY": 10}
        }
      }
    },
    {
      "width": 1090,
      "height": 754,
      "title": {"text": "b)", "dx": -33, "dy": -64},
      "data": {"name": "b"},
      "mark": {"type": "line", "strokeWidth": 5.2},
      "encoding": {
        "x": {
          "field": "x", "type": "quantitative",
          "scale": {"domain": [-1, 21], "nice": false, "zero": false},
          "axis": {
            "title": "Compressive strain (Displacement) (%)",
            "values": [-1, 0, 1, 2, 3, 4, 5, 6, 7, 8, 9, 10, 11, 12, 13, 14, 15, 16, 17, 18, 19, 20],
            "labelExpr": "datum.value % 2 === 0 ? format(datum.value, 'd') : ''",
            "tickSize": {"condition": {"test": "datum.value % 2 !== 0", "value": 8}, "value": 15},
            "labelPadding": 16,
            "titlePadding": 23
          }
        },
        "y": {
          "field": "y", "type": "quantitative",
          "scale": {"domain": [-0.04, 0.3], "nice": false, "zero": false},
          "axis": {
            "title": "Force (N)",
            "values": [-0.025, 0, 0.025, 0.05, 0.075, 0.1, 0.125, 0.15, 0.175, 0.2, 0.225, 0.25, 0.275, 0.3],
            "labelExpr": "abs(datum.value * 20 - round(datum.value * 20)) < 0.01 ? format(datum.value, '.2f') : ''",
            "tickSize": {"condition": {"test": "abs(datum.value * 20 - round(datum.value * 20)) > 0.01", "value": 8}, "value": 15},
            "labelPadding": 13,
            "titlePadding": 43
          }
        },
        "detail": {"field": "c", "type": "nominal"},
        "color": {
          "datum": "H2", "type": "nominal",
          "scale": {"range": ["#141414"]},
          "legend": {"legendX": 53, "legendY": 18}
        }
      }
    },
    {
      "width": 1090,
      "height": 754,
      "title": {"text": "c)", "dx": -65, "dy": -47},
      "data": {"name": "c"},
      "mark": {"type": "line", "strokeWidth": 3.6},
      "encoding": {
        "x": {
          "field": "x", "type": "quantitative",
          "scale": {"domain": [-0.5, 21], "nice": false, "zero": false},
          "axis": {
            "title": "Compressive strain (Displacement) (%)",
            "values": [0, 2, 4, 6, 8, 10, 12, 14, 16, 18, 20],
            "labelExpr": "datum.value % 4 === 0 ? format(datum.value, 'd') : ''",
            "tickSize": {"condition": {"test": "datum.value % 4 !== 0", "value": 8}, "value": 15},
            "labelPadding": 8,
            "titlePadding": 4
          }
        },
        "y": {
          "field": "y", "type": "quantitative",
          "scale": {"domain": [-0.03, 0.1], "nice": false, "zero": false},
          "axis": {
            "title": "Force (N)",
            "values": [-0.03, -0.02, -0.01, 0, 0.01, 0.02, 0.03, 0.04, 0.05, 0.06, 0.07, 0.08, 0.09, 0.1],
            "labelExpr": "abs(datum.value * 50 - round(datum.value * 50)) < 0.01 ? format(datum.value, '.2f') : ''",
            "tickSize": {"condition": {"test": "abs(datum.value * 50 - round(datum.value * 50)) > 0.01", "value": 8}, "value": 15},
            "labelPadding": 5,
            "titlePadding": 13
          }
        },
        "detail": {"field": "c", "type": "nominal"},
        "color": {
          "datum": "H1Al", "type": "nominal",
          "scale": {"range": ["#141414"]},
          "legend": {"legendX": 57, "legendY": 11}
        }
      }
    },
    {
      "width": 1090,
      "height": 754,
      "title": {"text": "d)", "dx": -59, "dy": -70},
      "data": {"name": "d"},
      "mark": {"type": "line", "strokeWidth": 3.8},
      "encoding": {
        "x": {
          "field": "x", "type": "quantitative",
          "scale": {"domain": [-1, 21], "nice": false, "zero": false},
          "axis": {
            "title": "Compressive strain (Displacement) (%)",
            "values": [-1, 0, 1, 2, 3, 4, 5, 6, 7, 8, 9, 10, 11, 12, 13, 14, 15, 16, 17, 18, 19, 20],
            "labelExpr": "datum.value % 2 === 0 ? format(datum.value, 'd') : ''",
            "tickSize": {"condition": {"test": "datum.value % 2 !== 0", "value": 8}, "value": 15},
            "labelPadding": 16,
            "titlePadding": 22
          }
        },
        "y": {
          "field": "y", "type": "quantitative",
          "scale": {"domain": [-0.04, 0.14], "nice": false, "zero": false},
          "axis": {
            "title": "Force (N)",
            "values": [-0.04, -0.03, -0.02, -0.01, 0, 0.01, 0.02, 0.03, 0.04, 0.05, 0.06, 0.07, 0.08, 0.09, 0.1, 0.11, 0.12, 0.13, 0.14],
            "labelExpr": "abs(datum.value * 50 - round(datum.value * 50)) < 0.01 ? format(datum.value, '.2f') : ''",
            "tickSize": {"condition": {"test": "abs(datum.value * 50 - round(datum.value * 50)) > 0.01", "value": 8}, "value": 15},
            "labelPadding": 6,
            "titlePadding": 34
          }
        },
        "detail": {"field": "c", "type": "nominal"},
        "color": {
          "datum": "H2Al", "type": "nominal",
          "scale": {"range": ["#141414"]},
          "legend": {"legendX": 33, "legendY": 3}
        }
      }
    }
  ]
}
